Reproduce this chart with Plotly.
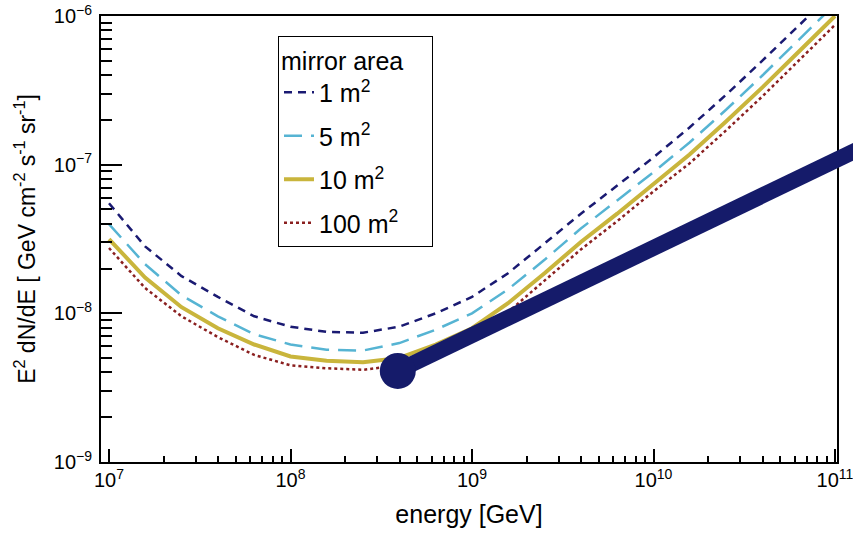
import plotly.graph_objects as go

# ---------------- data ----------------
energy = [1.0e7, 1.58e7, 2.51e7, 3.98e7, 6.31e7, 1.0e8, 1.58e8, 2.51e8, 3.98e8, 6.31e8,
          1.0e9, 1.58e9, 2.51e9, 3.98e9, 6.31e9, 1.0e10, 1.58e10, 2.51e10, 3.98e10,
          6.31e10, 1.0e11]

area_1 = [5.50e-8, 2.82e-8, 1.78e-8, 1.29e-8, 9.55e-9, 8.13e-9, 7.50e-9, 7.41e-9, 8.13e-9,
          1.00e-8, 1.29e-8, 1.86e-8, 2.95e-8, 4.68e-8, 7.24e-8, 1.12e-7, 1.78e-7, 2.95e-7,
          5.01e-7, 8.71e-7, 1.48e-6]
area_5 = [3.98e-8, 2.14e-8, 1.32e-8, 9.55e-9, 7.24e-9, 6.17e-9, 5.69e-9, 5.62e-9, 6.31e-9,
          7.76e-9, 1.00e-8, 1.45e-8, 2.29e-8, 3.72e-8, 5.75e-8, 8.91e-8, 1.41e-7, 2.34e-7,
          3.98e-7, 6.92e-7, 1.20e-6]
area_10 = [3.16e-8, 1.74e-8, 1.10e-8, 7.94e-9, 6.17e-9, 5.13e-9, 4.79e-9, 4.68e-9, 5.01e-9,
           6.17e-9, 7.94e-9, 1.17e-8, 1.86e-8, 3.02e-8, 4.68e-8, 7.41e-8, 1.17e-7, 1.95e-7,
           3.31e-7, 5.75e-7, 1.00e-6]
area_100 = [2.75e-8, 1.48e-8, 9.55e-9, 6.92e-9, 5.25e-9, 4.47e-9, 4.27e-9, 4.17e-9, 4.47e-9,
            5.50e-9, 7.08e-9, 1.02e-8, 1.66e-8, 2.69e-8, 4.17e-8, 6.61e-8, 1.02e-7, 1.70e-7,
            2.88e-7, 5.01e-7, 8.71e-7]

series_names = ["1 m<sup>2</sup>", "5 m<sup>2</sup>", "10 m<sup>2</sup>", "100 m<sup>2</sup>"]

# power-law flux line starting at the big dot
power_E = [3.9e8, 2.0e11]
power_F = [4.1e-9, 1.6e-7]

# ---------------- styling ----------------
FONT = "Liberation Sans, Arial, sans-serif"
styles = [
    dict(color="#1a1a72", width=2.5, dash="8px,6px"),
    dict(color="#56b4d3", width=2.5, dash="18px,9px"),
    dict(color="#c9b53c", width=4, dash="solid"),
    dict(color="#8a1f1f", width=2.5, dash="3px,3px"),
]
NAVY = "#151b6a"
# axes each curve is drawn on (x3 / y2 are overlays with the same scale, carrying minor ticks)
curve_axes = [("x3", "y"), ("x", "y2"), ("x", "y"), ("x", "y")]

x_minor = [m * 10 ** e for e in range(6, 11) for m in range(2, 10)]
y_minor = [m * 10.0 ** e for e in range(-10, -6) for m in range(2, 10)]

fig = go.Figure()
for name, vals, st, (xa, ya) in zip(series_names, [area_1, area_5, area_10, area_100],
                                     styles, curve_axes):
    fig.add_trace(go.Scatter(x=energy, y=vals, mode="lines", name=name, legendgroup=name,
                             line=st, xaxis=xa, yaxis=ya))

fig.add_trace(go.Scatter(x=power_E, y=power_F, mode="lines", showlegend=False,
                         line=dict(color=NAVY, width=16), xaxis="x2", yaxis="y"))
fig.add_trace(go.Scatter(x=power_E[:1], y=power_F[:1], mode="markers", showlegend=False,
                         marker=dict(color=NAVY, size=36), xaxis="x2", yaxis="y",
                         cliponaxis=False))

W, H = 853, 537
L, R, T, B = 101, 0, 16, 75
plot_w = W - L - R
plot_h = H - T - B
frame_w = 736
dec = 181.5
x0 = 7 - 8 / dec
x_range = [x0, x0 + frame_w / dec]
x_dom = [0, frame_w / plot_w]

tick_style = dict(ticks="inside", tickwidth=1.5, tickcolor="black")

fig.update_layout(
    width=W, height=H,
    margin=dict(l=L, r=R, t=T, b=B, autoexpand=False),
    paper_bgcolor="white", plot_bgcolor="rgba(0,0,0,0)",
    font=dict(family=FONT, color="black", size=20),
    xaxis=dict(
        type="log", range=x_range, domain=x_dom, anchor="y", automargin=False,
        showline=True, linecolor="black", linewidth=1.5, mirror=True,
        ticklen=13, **tick_style,
        tickmode="linear", tick0=0, dtick=1, exponentformat="power",
        tickfont=dict(size=16), ticklabeloverflow="allow",
        showgrid=False, zeroline=False,
        title=dict(text="energy [GeV]", font=dict(size=25), standoff=16),
    ),
    xaxis3=dict(
        type="log", range=x_range, domain=x_dom, anchor="y", overlaying="x", side="bottom",
        automargin=False, showline=False, ticklen=6, **tick_style,
        tickmode="array", tickvals=x_minor, showticklabels=False,
        showgrid=False, zeroline=False,
    ),
    xaxis2=dict(
        type="log", range=[x0, x0 + plot_w / dec], domain=[0, 1], anchor="y",
        visible=False, showgrid=False, automargin=False,
    ),
    yaxis=dict(
        type="log", range=[-9, -6], domain=[0, 1], anchor="x", automargin=False,
        showline=True, linecolor="black", linewidth=1.5, mirror=True,
        ticklen=21, **tick_style,
        tickmode="linear", tick0=0, dtick=1, exponentformat="power",
        tickfont=dict(size=16), ticksuffix="\u2009",
        showgrid=False, zeroline=False,
        title=dict(text="E<sup>2</sup> dN/dE [ GeV cm<sup>-2</sup> s<sup>-1</sup> sr<sup>-1</sup>]",
                   font=dict(size=23), standoff=12),
    ),
    yaxis2=dict(
        type="log", range=[-9, -6], domain=[0, 1], anchor="x", overlaying="y", side="left",
        automargin=False, showline=False, ticklen=11, **tick_style,
        tickmode="array", tickvals=y_minor, showticklabels=False,
        showgrid=False, zeroline=False,
    ),
    legend=dict(
        x=(278 - L) / plot_w, y=(462 - 36) / plot_h, xanchor="left", yanchor="top",
        bordercolor="black", borderwidth=1, bgcolor="white",
        font=dict(size=25, family=FONT),
        title=dict(text="mirror area\u00a0\u00a0\u00a0\u2009", font=dict(size=25)),
        tracegroupgap=8, itemwidth=30, traceorder="grouped",
    ),
    showlegend=True,
)

fig.write_html("out.html")
